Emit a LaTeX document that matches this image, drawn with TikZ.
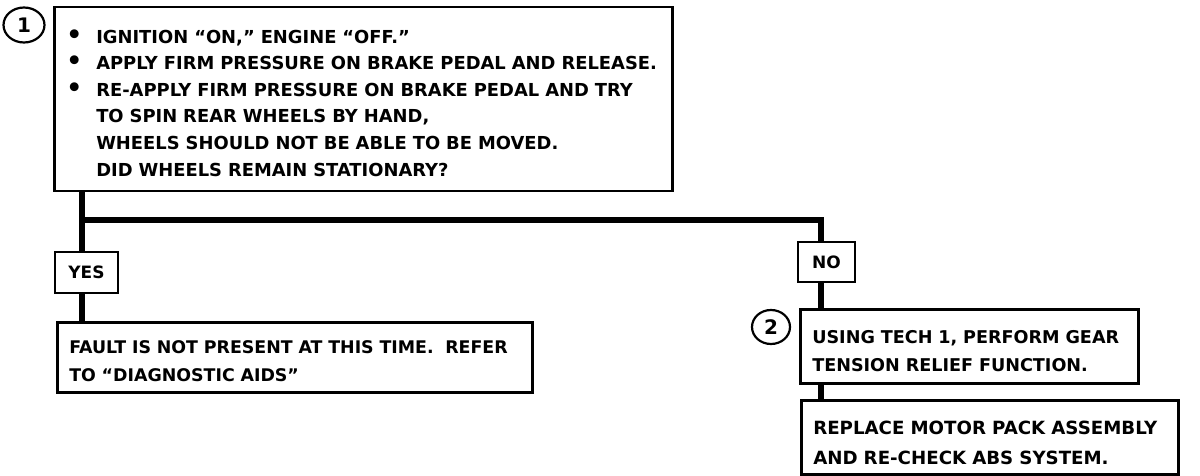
\documentclass[tikz,border=0pt]{standalone}
\usepackage{fontspec}
\setmainfont{DejaVu Sans}
\usetikzlibrary{shapes.geometric}
\begin{document}
\begin{tikzpicture}[
    x=1pt, y=-1pt,
    stepbox/.style={rectangle, draw, line width=2.5pt, anchor=north west, align=left, inner xsep=12pt, inner ysep=0pt, font=\fontsize{17.6}{28}\selectfont\bfseries},
    answerbox/.style={rectangle, draw, line width=2.5pt, inner sep=0pt, font=\fontsize{17}{20}\selectfont\bfseries},
    stepnum/.style={ellipse, draw, line width=2.2pt, inner sep=0pt, font=\fontsize{20}{20}\selectfont\bfseries},
    flowline/.style={line width=6pt},
]
\useasboundingbox (0,0) rectangle (1200,476);

\node[stepbox, text width=594pt, minimum height=184pt, font=\fontsize{17.9}{26.6}\selectfont\bfseries] (box1) at (53,6) {%
\rule{0pt}{21pt}\makebox[30pt][l]{\fontsize{25}{25}\selectfont\textbullet}IGNITION ``ON,'' ENGINE ``OFF.''\\
\makebox[30pt][l]{\fontsize{25}{25}\selectfont\textbullet}APPLY FIRM PRESSURE ON BRAKE PEDAL AND RELEASE.\\
\makebox[30pt][l]{\fontsize{25}{25}\selectfont\textbullet}RE-APPLY FIRM PRESSURE ON BRAKE PEDAL AND TRY\\
\hspace*{30pt}TO SPIN REAR WHEELS BY HAND,\\
\hspace*{30pt}WHEELS SHOULD NOT BE ABLE TO BE MOVED.\\
\hspace*{30pt}DID WHEELS REMAIN STATIONARY?};
\node[stepnum, minimum width=41pt, minimum height=35pt] (num1) at (24,25) {1};

\node[answerbox, minimum width=63pt, minimum height=41pt] (yes) at (86.5,272.5) {YES};
\node[answerbox, minimum width=57pt, minimum height=40pt] (no) at (826.5,262) {NO};

\node[stepbox, text width=451pt, minimum height=70pt, font=\fontsize{17.4}{28}\selectfont\bfseries] (fault) at (56,321) {%
\rule{0pt}{20pt}FAULT IS NOT PRESENT AT THIS TIME.\ \ REFER\\
TO ``DIAGNOSTIC AIDS''};

\node[stepbox, text width=314pt, minimum height=74pt] (box2) at (799,308) {%
\rule{0pt}{22pt}USING TECH 1, PERFORM GEAR\\
TENSION RELIEF FUNCTION.};
\node[stepnum, minimum width=38pt, minimum height=34pt] (num2) at (771,327) {2};

\node[stepbox, text width=353pt, minimum height=74pt, font=\fontsize{18.2}{30}\selectfont\bfseries] (box3) at (800,399) {%
\rule{0pt}{24pt}REPLACE MOTOR PACK ASSEMBLY\\
AND RE-CHECK ABS SYSTEM.};

\coordinate (leftcol) at (82,220);
\coordinate (rightcol) at (821,220);

\draw[flowline] (box1.south -| leftcol) -- (yes.north -| leftcol);
\draw[flowline] (leftcol) -| (no.north -| rightcol);
\draw[flowline] (yes.south -| leftcol) -- (fault.north -| leftcol);
\draw[flowline] (no.south -| rightcol) -- (box2.north -| rightcol);
\draw[flowline] (box2.south -| rightcol) -- (box3.north -| rightcol);
\end{tikzpicture}
\end{document}
